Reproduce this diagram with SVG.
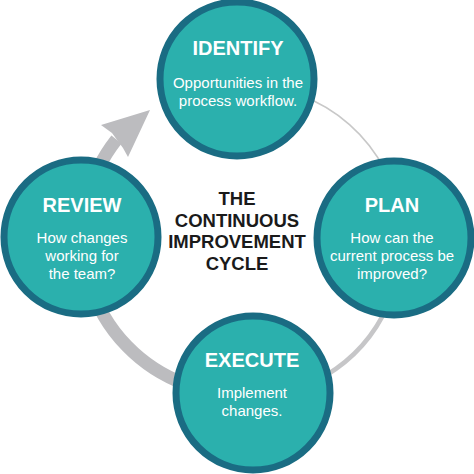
<svg xmlns="http://www.w3.org/2000/svg" width="474" height="474" viewBox="0 0 474 474">
<style>
.node circle{fill:#2bb0ad;stroke:#1a6c83;stroke-width:7}
.t{font-family:"Liberation Sans",Arial,sans-serif;font-weight:bold;font-size:20px;fill:#ffffff;text-anchor:middle}
.b{font-family:"Liberation Sans",Arial,sans-serif;font-size:15px;fill:#ffffff;text-anchor:middle}
.c{font-family:"Liberation Sans",Arial,sans-serif;font-weight:bold;font-size:18.5px;fill:#1a1a1a;text-anchor:middle}
</style>
<rect width="474" height="474" fill="#ffffff"/>
<g id="connectors" fill="none">
<path d="M 185 384 A 157 157 0 0 1 116.5 139.5" stroke="#bcbcbf" stroke-width="13"/>
<polygon points="150,110 101,125 112,133 123,148 128,157" fill="#bcbcbf"/>
<path d="M 300 95 A 157 157 0 0 1 385 170" stroke="#c8c8c8" stroke-width="1.6"/>
<path d="M 388 305 A 157 157 0 0 1 325 376" stroke="#c6c6c8" stroke-width="4.5"/>
</g>
<g id="identify" class="node">
<circle cx="237" cy="79" r="77"/>
<text class="t" x="238" y="55">IDENTIFY</text>
<text class="b" x="238" y="88">Opportunities in the</text>
<text class="b" x="238" y="106">process workflow.</text>
</g>
<g id="review" class="node">
<circle cx="81" cy="237" r="77"/>
<text class="t" x="82" y="212">REVIEW</text>
<text class="b" x="82" y="243">How changes</text>
<text class="b" x="82" y="261">working for</text>
<text class="b" x="82" y="279">the team?</text>
</g>
<g id="plan" class="node">
<circle cx="394" cy="238" r="77"/>
<text class="t" x="392" y="212">PLAN</text>
<text class="b" x="392" y="243">How can  the</text>
<text class="b" x="392" y="261">current process be</text>
<text class="b" x="392" y="279">improved?</text>
</g>
<g id="execute" class="node">
<circle cx="253" cy="393" r="77"/>
<text class="t" x="252" y="367">EXECUTE</text>
<text class="b" x="252" y="398">Implement</text>
<text class="b" x="252" y="416">changes.</text>
</g>
<g id="title">
<text class="c" x="237" y="205">THE</text>
<text class="c" x="237" y="227">CONTINUOUS</text>
<text class="c" x="237" y="248">IMPROVEMENT</text>
<text class="c" x="237" y="270">CYCLE</text>
</g>
</svg>
